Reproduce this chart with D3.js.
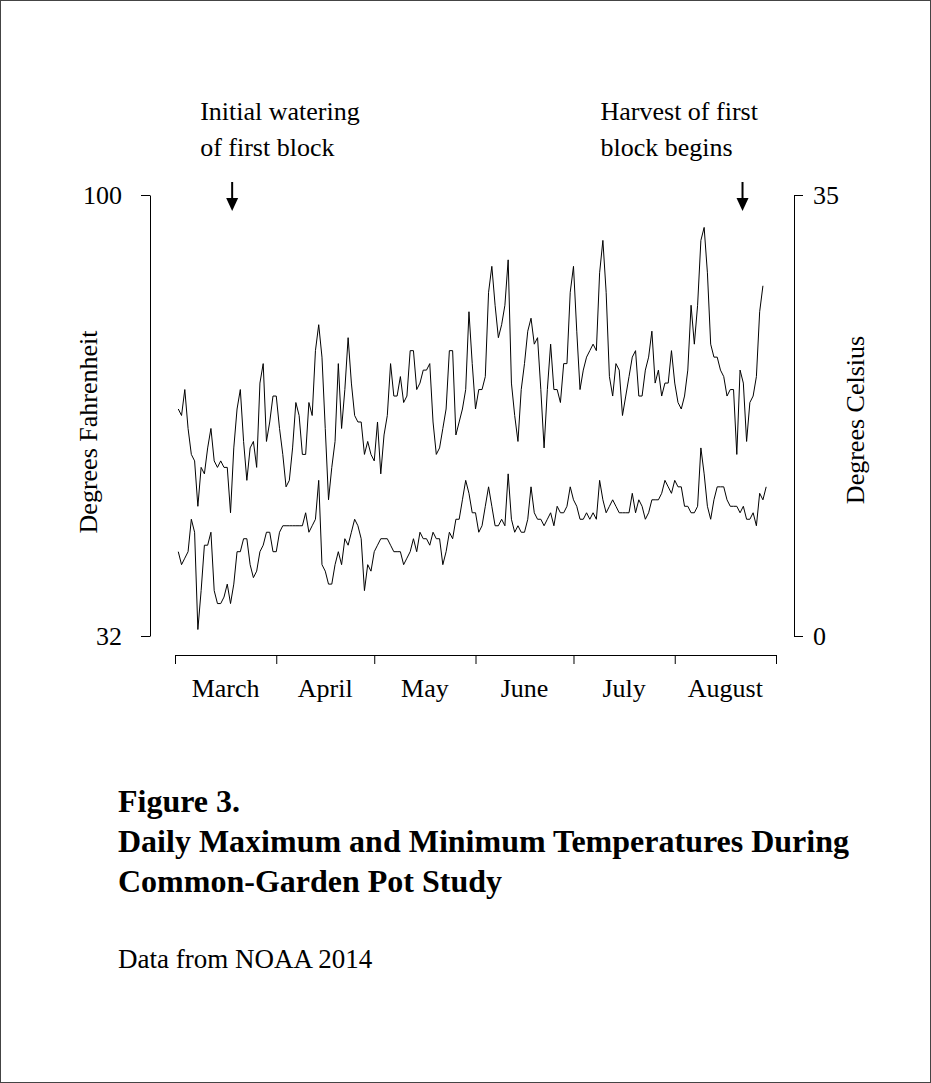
<!DOCTYPE html>
<html>
<head>
<meta charset="utf-8">
<script src="https://cdn.jsdelivr.net/npm/d3@7"></script>
<style>
  html, body { margin: 0; padding: 0; background: #fff; }
  svg { display: block; }
  text { font-family: "Liberation Serif", "Times New Roman", Times, serif; fill: #000; }
</style>
</head>
<body>
<script>
// Daily temperatures (°F), one value per day starting 1 March 2014
const maxTempF = [
  67,66,70,64,60,59,52,58,57,61,64,59,58,59,58,58,51,61,67,70,62,56,61,62,58,71,74,62,65,69,
  69,64,60,55,56,61,68,66,60,60,68,66,76,80,75,64,53,58,62,74,64,70,78,71,66,65,65,60,62,60,59,
  65,57,63,66,74,69,69,72,68,69,76,76,70,71,73,73,74,65,60,61,64,67,76,76,63,65,67,70,82,
  74,67,70,70,72,85,89,83,78,80,83,90,71,66,62,70,74,79,81,77,78,70,61,70,77,70,70,68,74,74,85,89,
  79,70,73,75,76,77,76,88,93,85,72,69,74,73,66,69,72,75,76,69,69,73,75,79,71,73,69,71,71,76,
  71,68,67,69,73,83,77,83,93,95,88,77,75,75,73,72,69,70,70,60,73,71,62,68,69,72,82,86
];
const minTempF = [
  45,43,44,45,50,48,33,39,46,46,48,39,37,37,38,40,37,40,45,45,47,47,43,41,42,45,46,48,48,45,
  45,48,49,49,49,49,49,49,49,51,48,49,50,56,43,42,40,40,43,45,43,47,46,48,50,49,47,39,43,42,45,
  46,47,47,47,46,45,45,45,43,44,45,47,45,48,47,47,46,48,47,47,43,45,48,47,50,50,53,56,54,
  51,51,48,49,52,55,52,49,49,50,49,57,50,48,49,48,48,50,55,51,50,50,49,50,51,49,52,51,51,52,55,53,
  52,50,50,51,50,51,50,56,53,51,52,53,52,51,51,51,51,54,51,53,52,50,51,53,53,53,54,56,55,54,
  56,55,55,52,52,51,51,52,61,57,52,50,53,55,55,55,53,52,52,52,51,52,50,50,51,49,54,53,55
];
const monthLabels = ["March", "April", "May", "June", "July", "August"];
const fTicks = [32, 100];
const cTicks = [0, 35];
const startDate = new Date(Date.UTC(2014, 2, 1));
const endDate = new Date(Date.UTC(2014, 8, 1));
const annotations = [
  { date: new Date(Date.UTC(2014, 2, 18, 12)), lines: ["Initial watering", "of first block"] },
  { date: new Date(Date.UTC(2014, 7, 21, 18)), lines: ["Harvest of first", "block begins"] }
];
const captionTitle = ["Figure 3.", "Daily Maximum and Minimum Temperatures During", "Common-Garden Pot Study"];
const captionSource = "Data from NOAA 2014";

const W = 931, H = 1083;
const svg = d3.select("body").append("svg").attr("width", W).attr("height", H);

// frame around the figure
svg.append("rect").attr("x", 0.5).attr("y", 0.5).attr("width", W - 1).attr("height", H - 1)
  .attr("fill", "#fff").attr("stroke", "#444").attr("stroke-width", 1);

const dayOf = i => new Date(startDate.getTime() + (i + 1) * 864e5);

const x = d3.scaleUtc().domain([startDate, endDate]).range([175, 776]);
const yF = d3.scaleLinear().domain([32, 100]).range([636, 195]);
const yC = d3.scaleLinear().domain([0, 35]).range([636, 195]);

const line = d3.line().x((d, i) => x(dayOf(i))).y(d => yF(d)).curve(d3.curveLinear);

const g = svg.append("g");
g.append("path").datum(maxTempF).attr("d", line)
  .attr("fill", "none").attr("stroke", "#000").attr("stroke-width", 1);
g.append("path").datum(minTempF).attr("d", line)
  .attr("fill", "none").attr("stroke", "#000").attr("stroke-width", 1);

function styleAxis(sel) {
  sel.select(".domain").attr("stroke", "#000").attr("stroke-width", 1);
  sel.selectAll(".tick line").attr("stroke", "#000").attr("stroke-width", 1);
  sel.selectAll(".tick text").attr("font-family", "Liberation Serif, Times New Roman, serif")
    .attr("font-size", 26).attr("fill", "#000");
}

// left axis (Fahrenheit)
const axL = svg.append("g").attr("transform", "translate(150,0)")
  .call(d3.axisLeft(yF).tickValues(fTicks).tickSize(9).tickSizeOuter(0).tickPadding(19));
styleAxis(axL);

// right axis (Celsius)
const axR = svg.append("g").attr("transform", "translate(794,0)")
  .call(d3.axisRight(yC).tickValues(cTicks).tickSize(9).tickSizeOuter(0).tickPadding(10));
styleAxis(axR);

// bottom axis: ticks at month starts, labels centred in each month
const monthStarts = d3.utcMonth.range(startDate, d3.utcDay.offset(endDate, 1));
const axB = svg.append("g").attr("transform", "translate(0,655)")
  .call(d3.axisBottom(x).tickValues(monthStarts).tickSize(9).tickSizeOuter(0).tickFormat(""));
styleAxis(axB);
axB.selectAll(".month").data(monthLabels).join("text").attr("class", "month")
  .attr("x", (d, i) => (x(monthStarts[i]) + x(monthStarts[i + 1])) / 2)
  .attr("y", 42).attr("text-anchor", "middle").attr("font-size", 26).text(d => d);

// axis titles
svg.append("text").attr("transform", "translate(97,432) rotate(-90)")
  .attr("text-anchor", "middle").attr("font-size", 26).text("Degrees Fahrenheit");
svg.append("text").attr("transform", "translate(864,420) rotate(-90)")
  .attr("text-anchor", "middle").attr("font-size", 26).text("Degrees Celsius");

// annotations with arrows
annotations.forEach((a, k) => {
  const ax = x(a.date);
  const tx = k === 0 ? ax - 32 : ax - 142;
  a.lines.forEach((t, j) => {
    svg.append("text").attr("x", tx).attr("y", 120 + j * 36).attr("font-size", 26).text(t);
  });
  svg.append("line").attr("x1", ax).attr("x2", ax).attr("y1", 182).attr("y2", 202)
    .attr("stroke", "#000").attr("stroke-width", 2);
  svg.append("path")
    .attr("d", `M${ax - 6},${198} L${ax + 6},${198} L${ax},${211} Z`)
    .attr("fill", "#000");
});

// caption
captionTitle.forEach((t, j) => {
  svg.append("text").attr("x", 118).attr("y", 812 + j * 40).attr("font-size", 32)
    .attr("font-weight", "bold").text(t);
});
svg.append("text").attr("x", 118).attr("y", 968).attr("font-size", 27).text(captionSource);
</script>
</body>
</html>
